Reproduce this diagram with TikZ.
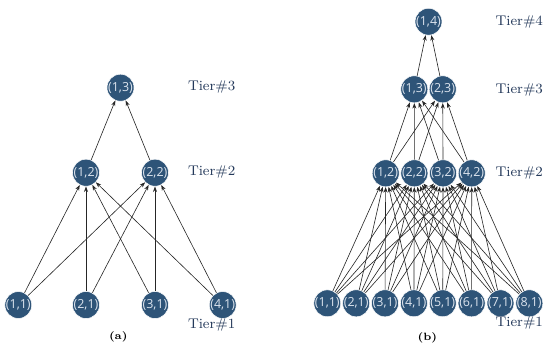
\documentclass[tikz,border=0pt]{standalone}
\usepackage{fontspec}
\usepackage{tikz}
\usetikzlibrary{arrows.meta,positioning}
\newfontfamily\nodefont{Open Sans}
\definecolor{nodeBlue}{HTML}{2E5478}
\definecolor{nodeText}{HTML}{DCE4EE}
\definecolor{tierText}{HTML}{24395A}
\tikzset{
  unit/.style={circle, fill=nodeBlue, draw=white, line width=0.3pt, minimum size=0.47cm, inner sep=0pt,
    font=\nodefont\fontsize{7.1}{8}\selectfont, text=nodeText},
  link/.style={-{Stealth[length=1.1mm,width=0.8mm]}, line width=0.35pt, black!85},
  tier/.style={font=\fontsize{8}{9}\selectfont, text=tierText},
  subcap/.style={font=\fontsize{6}{7}\selectfont\bfseries}
}
\begin{document}
\begin{tikzpicture}[x=0.02cm,y=-0.02cm]
  % pixel-sized units, 550 x 348
  \path (0,0) rectangle (550,348);

  % (a)
  \node[unit] (a13) at (120.5,87.7) {(1,3)};
  \node[unit] (a12) at (86,172.7) {(1,2)};
  \node[unit] (a22) at (155,172.7) {(2,2)};
  \node[unit] (a11) at (18.3,305) {(1,1)};
  \node[unit] (a21) at (86,305) {(2,1)};
  \node[unit] (a31) at (155,305) {(3,1)};
  \node[unit] (a41) at (222.7,305) {(4,1)};
  \foreach \i in {1,...,4}
    \foreach \j in {1,2}
      \draw[link] (a\i1) -- (a\j2);
  \foreach \j in {1,2}
    \draw[link] (a\j2) -- (a13);
  \node[tier] (aT3) at (211.7,86.7) {Tier\#3};
  \node[tier] (aT2) at (211.7,171.7) {Tier\#2};
  \node[tier] (aT1) at (211.7,325) {Tier\#1};
  \node[subcap] (capa) at (118.3,336.7) {(a)};

  % (b)
  \node[unit] (b14) at (428.5,21.7) {(1,4)};
  \node[unit] (b13) at (414.3,89.3) {(1,3)};
  \node[unit] (b23) at (442.7,89.3) {(2,3)};
  \foreach \j in {1,...,4}
    \node[unit] (b\j2) at ({385.7+28.67*(\j-1)},173.3) {(\j,2)};
  \foreach \i in {1,...,8}
    \node[unit] (b\i1) at ({327.3+28.86*(\i-1)},303.3) {(\i,1)};
  \foreach \i in {1,...,8}
    \foreach \j in {1,...,4}
      \draw[link] (b\i1) -- (b\j2);
  \foreach \j in {1,...,4}
    \foreach \k in {1,2}
      \draw[link] (b\j2) -- (b\k3);
  \foreach \k in {1,2}
    \draw[link] (b\k3) -- (b14);
  \node[tier] (bT4) at (519.3,22.3) {Tier\#4};
  \node[tier] (bT3) at (519.3,90) {Tier\#3};
  \node[tier] (bT2) at (519.3,173.3) {Tier\#2};
  \node[tier] (bT1) at (519.3,323.3) {Tier\#1};
  \node[subcap] (capb) at (427.3,338.3) {(b)};
\end{tikzpicture}
\end{document}
